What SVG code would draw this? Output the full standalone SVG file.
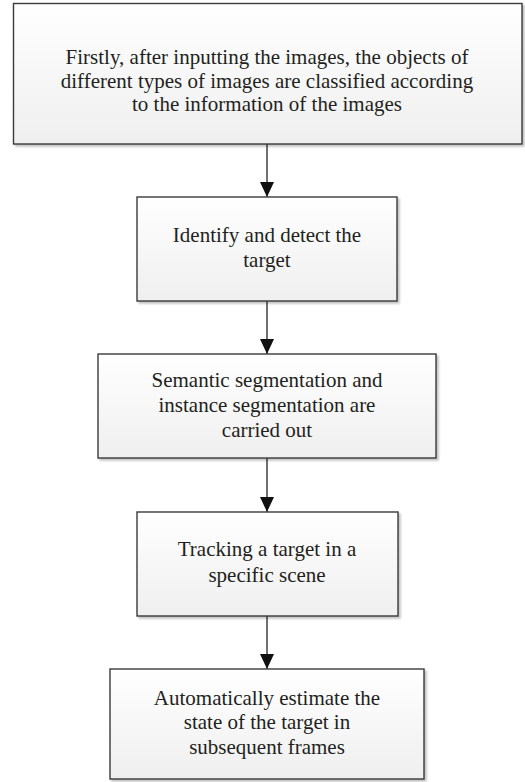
<svg xmlns="http://www.w3.org/2000/svg" width="525" height="782" viewBox="0 0 525 782">
  <style>
    .box { fill: url(#boxFill); stroke: #3a3a3a; stroke-width: 1.4; filter: url(#shadow); }
    .label { font-family: "Liberation Serif", "Times New Roman", serif; font-size: 21px; fill: #231f20; text-anchor: middle; }
    .link { stroke: #404040; stroke-width: 1.5; fill: none; marker-end: url(#arrow); }
  </style>
  <defs>
    <linearGradient id="boxFill" x1="0" y1="0" x2="0" y2="1">
      <stop offset="0" stop-color="#ffffff"/>
      <stop offset="1" stop-color="#efefef"/>
    </linearGradient>
    <filter id="shadow" x="-5%" y="-5%" width="112%" height="115%">
      <feGaussianBlur in="SourceAlpha" stdDeviation="1"/>
      <feOffset dx="2" dy="2" result="off"/>
      <feComponentTransfer><feFuncA type="linear" slope="0.25"/></feComponentTransfer>
      <feMerge><feMergeNode/><feMergeNode in="SourceGraphic"/></feMerge>
    </filter>
    <marker id="arrow" viewBox="0 0 15 14" refX="15" refY="7" markerWidth="15" markerHeight="14" markerUnits="userSpaceOnUse" orient="auto">
      <path d="M0,0 L15,7 L0,14 Z" fill="#111"/>
    </marker>
  </defs>

  <g id="connectors">
    <line class="link" x1="267" y1="144" x2="267" y2="197"/>
    <line class="link" x1="267" y1="301" x2="267" y2="354"/>
    <line class="link" x1="267" y1="458" x2="267" y2="512"/>
    <line class="link" x1="267" y1="616" x2="267" y2="669"/>
  </g>

  <g id="step1">
    <rect class="box" x="13.5" y="3.5" width="508.5" height="140.5"/>
    <text class="label" x="267" y="64">Firstly, after inputting the images, the objects of</text>
    <text class="label" x="267" y="87.5">different types of images are classified according</text>
    <text class="label" x="267" y="110.5">to the information of the images</text>
  </g>

  <g id="step2">
    <rect class="box" x="137" y="197" width="260" height="104"/>
    <text class="label" x="267" y="241.5">Identify and detect the</text>
    <text class="label" x="267" y="266.5">target</text>
  </g>

  <g id="step3">
    <rect class="box" x="98" y="354" width="338" height="104"/>
    <text class="label" x="267" y="386.5">Semantic segmentation and</text>
    <text class="label" x="267" y="411.5">instance segmentation are</text>
    <text class="label" x="267" y="436.5">carried out</text>
  </g>

  <g id="step4">
    <rect class="box" x="137" y="512" width="261" height="104"/>
    <text class="label" x="267" y="556">Tracking a target in a</text>
    <text class="label" x="267" y="581.5">specific scene</text>
  </g>

  <g id="step5">
    <rect class="box" x="110" y="669" width="314" height="110"/>
    <text class="label" x="267" y="704.5">Automatically estimate the</text>
    <text class="label" x="267" y="729">state of the target in</text>
    <text class="label" x="267" y="753.5">subsequent frames</text>
  </g>
</svg>
